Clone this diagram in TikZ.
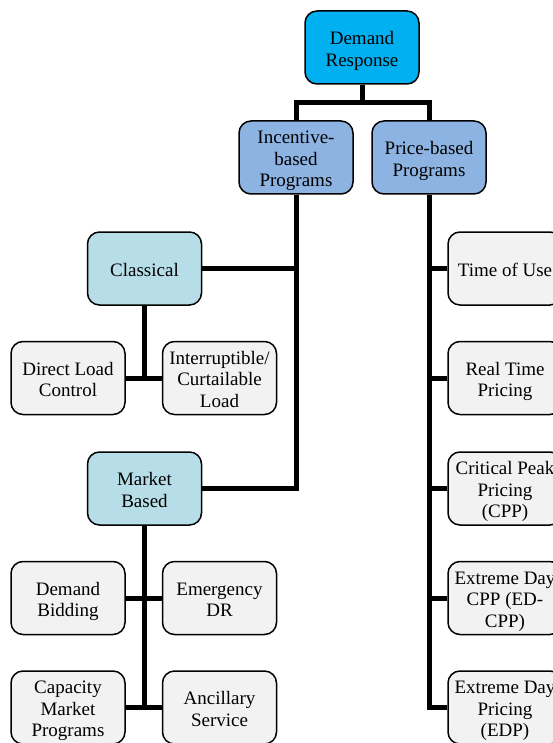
\documentclass[tikz,border=0pt]{standalone}
\usepackage{fontspec}
\setmainfont{Liberation Serif}
\definecolor{rootblue}{HTML}{00B0F0}
\definecolor{midblue}{HTML}{8DB3E2}
\definecolor{paleblue}{HTML}{B7DEE8}
\definecolor{leafgray}{HTML}{F2F2F2}
% box text: centred lines on struts, with extra room on top so it sits a little low
\newcommand{\bx}[1]{\raisebox{0pt}[\dimexpr\height+7pt\relax][\depth]{\begin{tabular}{@{}c@{}}#1\end{tabular}}}
\begin{document}
\begin{tikzpicture}[x=1pt,y=-1pt,
  box/.style={draw=black, line width=1.5pt, rounded corners=12pt,
    minimum width=114pt, minimum height=73pt, inner sep=0pt,
    font=\fontsize{19}{21.5}\selectfont},
  rootbox/.style={box, fill=rootblue},
  progbox/.style={box, fill=midblue},
  typebox/.style={box, fill=paleblue},
  leafbox/.style={box, fill=leafgray},
  link/.style={line width=5pt, line join=miter}]
\useasboundingbox (0,0) rectangle (553,743);
\clip (0,0) rectangle (553,743);

% junction points of the tree lines
\coordinate (split) at (362,103);
\coordinate (cjoin) at (144.5,378);
\coordinate (mend) at (144.5,707.5);

% boxes
\node[rootbox] (dr) at (362,47.5) {\bx{Demand\\Response}};
\node[progbox] (inc) at (296,157.5) {\bx{Incentive-\\based\\Programs}};
\node[progbox] (price) at (429,157.5) {\bx{Price-based\\Programs}};

\node[typebox] (cls) at (144.5,268.5) {\bx{Classical}};
\node[typebox] (mkt) at (144.5,488.5) {\bx{Market\\Based}};

\node[leafbox] (dlc) at (68,378) {\bx{Direct Load\\Control}};
\node[leafbox] (icl) at (219.5,378) {\bx{Interruptible/\\Curtailable\\Load}};
\node[leafbox] (bid) at (68,598) {\bx{Demand\\Bidding}};
\node[leafbox] (edr) at (219.5,598) {\bx{Emergency\\DR}};
\node[leafbox] (cap) at (68,707.5) {\bx{Capacity\\Market\\Programs}};
\node[leafbox] (anc) at (219.5,707.5) {\bx{Ancillary\\Service}};

\node[leafbox] (tou) at (505,268.5) {\bx{Time of Use}};
\node[leafbox] (rtp) at (505,378) {\bx{Real Time\\Pricing}};
\node[leafbox] (cpp) at (505,488.5) {\bx{Critical Peak\\Pricing\\(CPP)}};
\node[leafbox] (edcpp) at (505,598) {\bx{Extreme Day\\CPP (ED-\\CPP)}};
\node[leafbox] (edp) at (505,707.5) {\bx{Extreme Day\\Pricing\\(EDP)}};

% tree lines
\draw[link] (dr.south) -- (split);
\draw[link] (inc.north) |- (split) -| (price.north);
\draw[link] (inc.south) |- (mkt.east);
\draw[link] (cls.east) -- (cls.east -| inc.south);
\draw[link] (cls.south) -- (cjoin);
\draw[link] (dlc.east) -- (icl.west);
\draw[link] (mkt.south) -- (mend);
\draw[link] (bid.east) -- (edr.west);
\draw[link] (cap.east) -- (anc.west);
\draw[link] (price.south) |- (edp.west);
\draw[link] (tou.west) -- (tou.west -| price.south);
\draw[link] (rtp.west) -- (rtp.west -| price.south);
\draw[link] (cpp.west) -- (cpp.west -| price.south);
\draw[link] (edcpp.west) -- (edcpp.west -| price.south);
\end{tikzpicture}
\end{document}
